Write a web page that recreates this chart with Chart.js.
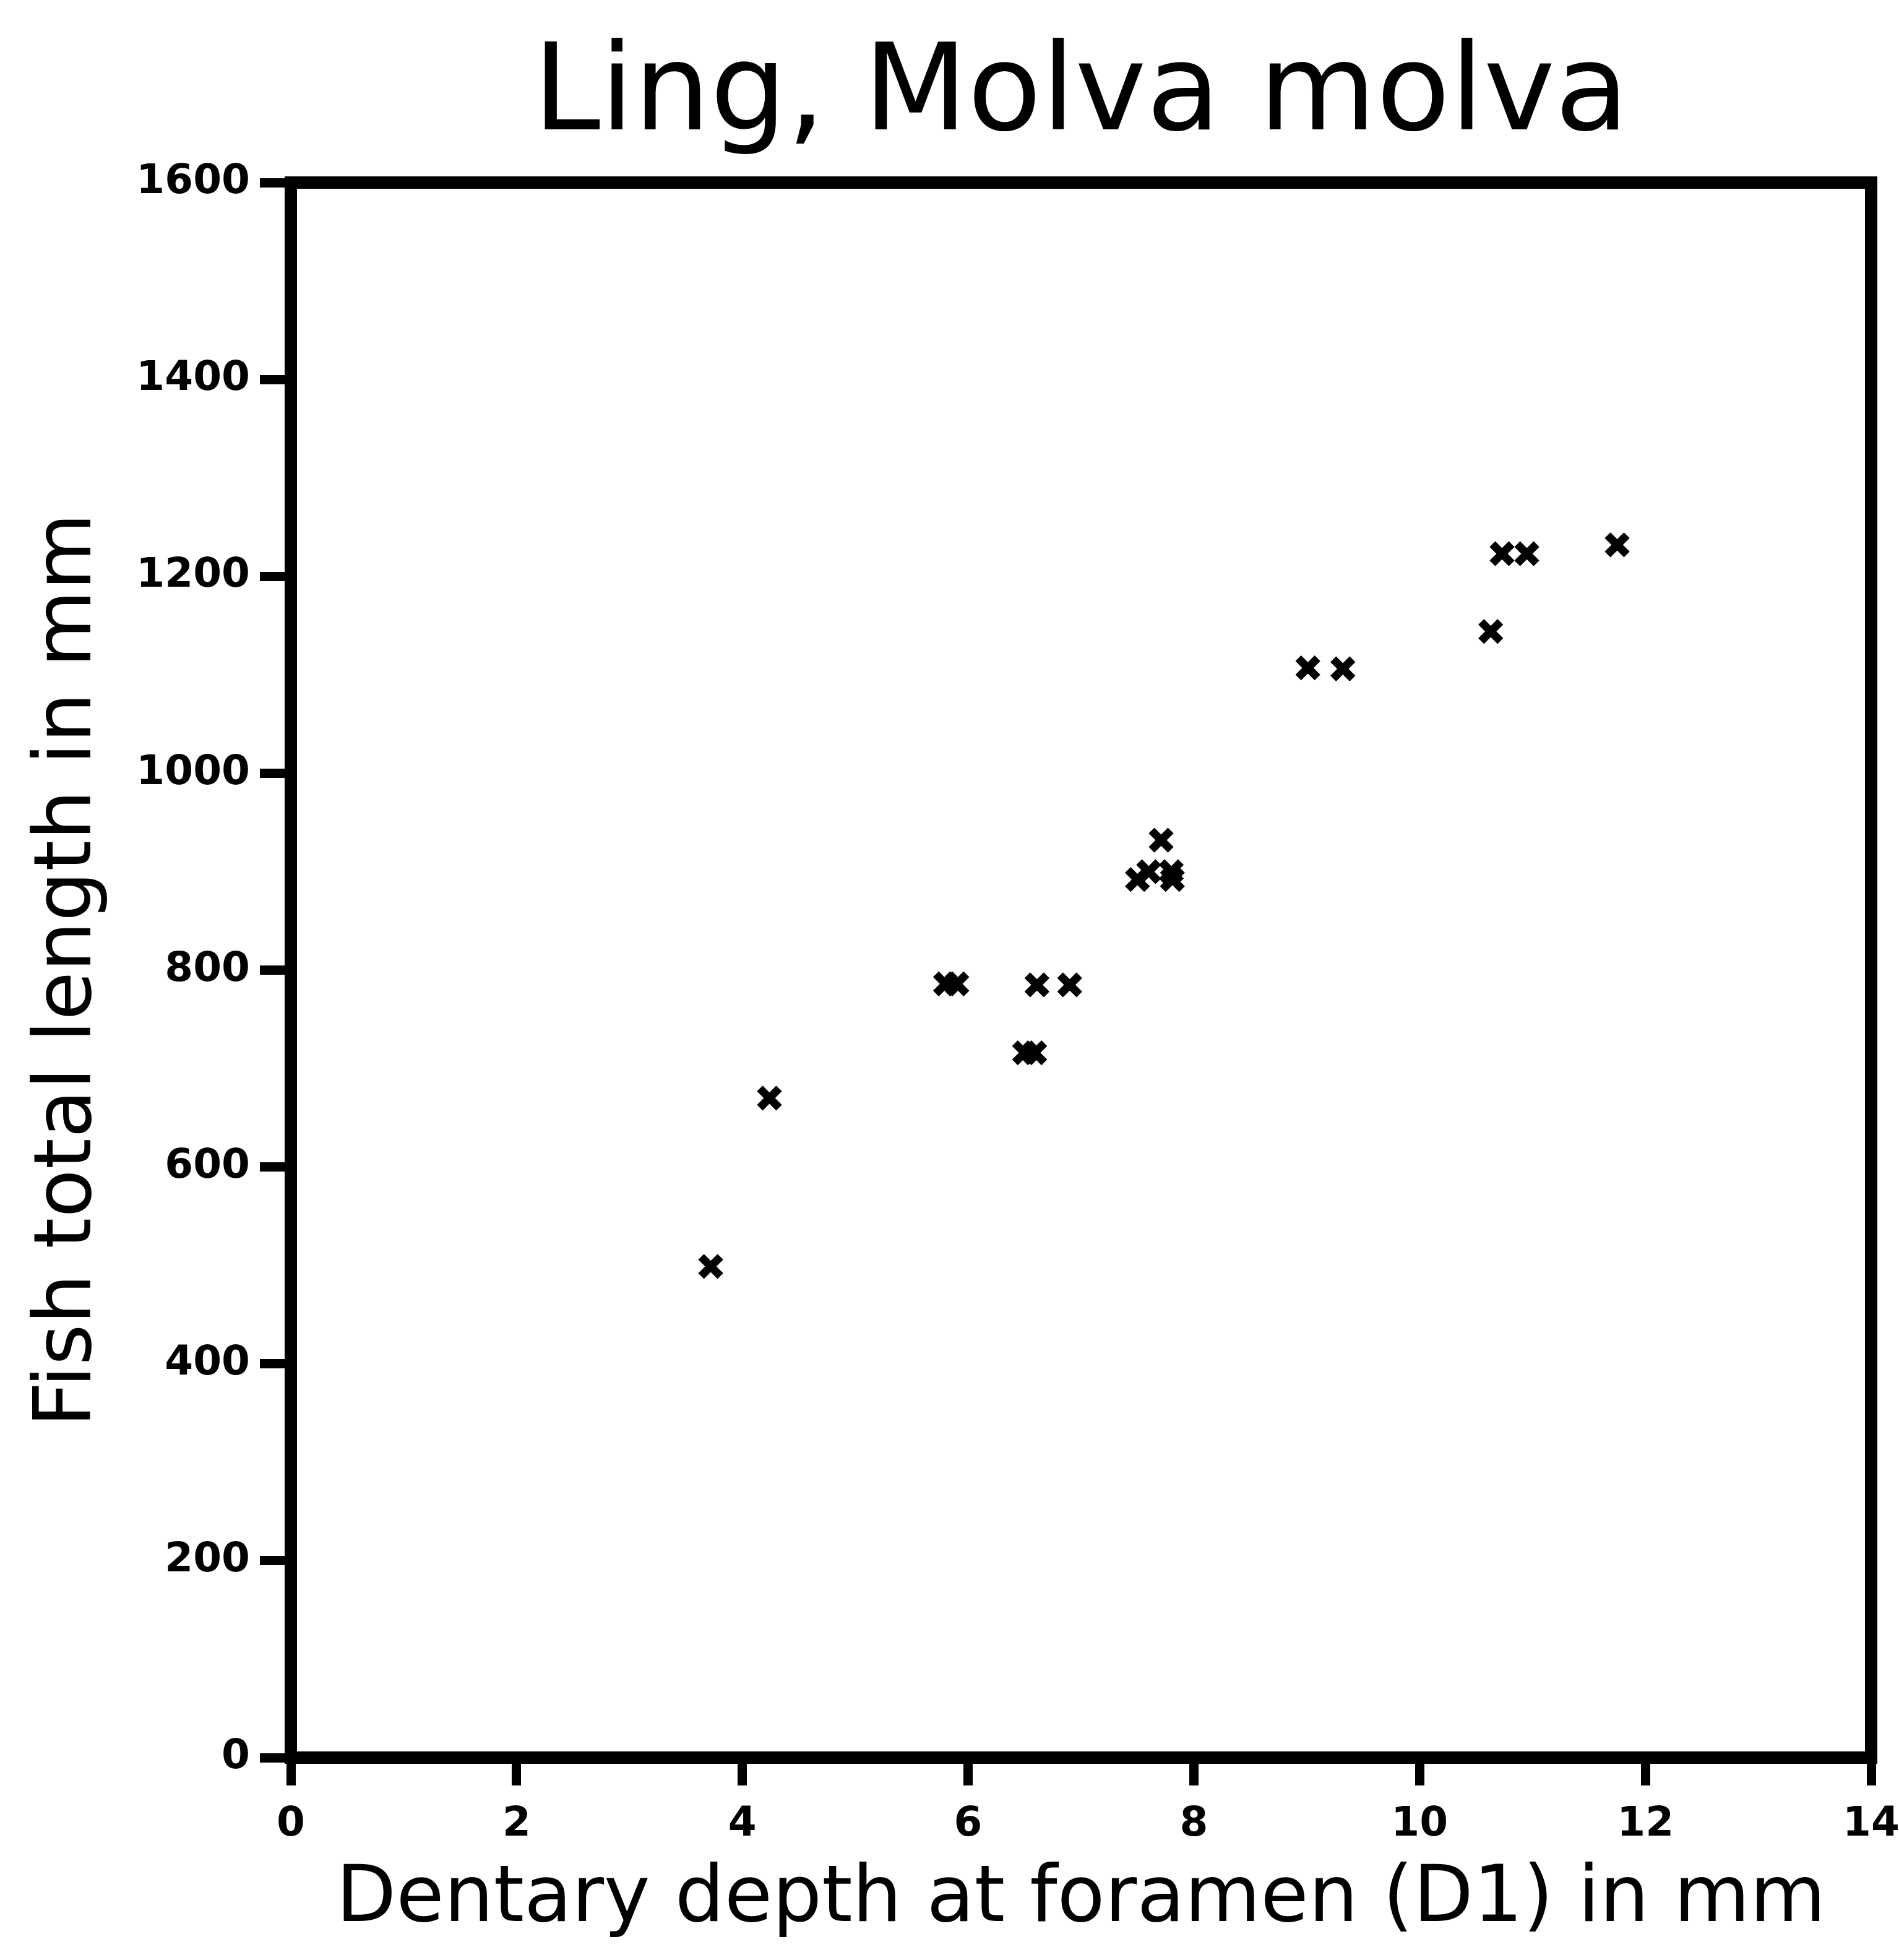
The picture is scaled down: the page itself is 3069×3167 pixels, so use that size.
<!DOCTYPE html>
<html>
<head>
<meta charset="utf-8">
<script src="https://cdn.jsdelivr.net/npm/chart.js@4.4.1/dist/chart.umd.min.js"></script>
<style>
  html, body { margin: 0; padding: 0; background: #ffffff; }
  #wrap { width: 3069px; height: 3167px; }
</style>
</head>
<body>
<div id="wrap"><canvas id="c" width="3069" height="3167"></canvas></div>
<script>
const chartTitle = "Ling, Molva molva";
const xAxisTitle = "Dentary depth at foramen (D1) in mm";
const yAxisTitle = "Fish total length in mm";

// Dentary depth (mm)
const dentaryDepth = [3.72, 4.24, 5.80, 5.90, 6.61, 6.90, 6.50, 6.59, 7.50, 7.60, 7.80, 7.81, 7.71, 9.01, 9.32, 10.63, 10.73, 10.95, 11.75];
// Fish total length (mm)
const fishLength   = [499,  670,  786,  786,  785,  785,  716,  716,  892,  900,  900,  892,  932,  1107, 1106, 1144,  1223,  1223,  1232];

const xTicks = [0, 2, 4, 6, 8, 10, 12, 14];
const yTicks = [0, 200, 400, 600, 800, 1000, 1200, 1400, 1600];

const points = dentaryDepth.map((x, i) => ({ x: x, y: fishLength[i] }));

const frame = {
  id: 'frame',
  afterDatasetsDraw(chart) {
    const a = chart.chartArea;
    const ctx = chart.ctx;
    ctx.save();
    ctx.strokeStyle = '#000';
    ctx.lineWidth = 20;
    ctx.lineJoin = 'miter';
    ctx.strokeRect(a.left, a.top, a.right - a.left, a.bottom - a.top);
    ctx.restore();
  }
};

new Chart(document.getElementById('c'), {
  type: 'scatter',
  data: {
    datasets: [{
      data: points,
      pointStyle: 'crossRot',
      pointRadius: 22,
      pointHoverRadius: 22,
      pointBorderWidth: 13,
      pointBorderColor: '#000',
      pointBackgroundColor: '#000'
    }]
  },
  plugins: [frame],
  options: {
    responsive: false,
    animation: false,
    events: [],
    layout: { padding: { top: 0, right: 45, bottom: 0, left: 0 } },
    plugins: {
      legend: { display: false },
      tooltip: { enabled: false },
      title: {
        display: true,
        text: chartTitle,
        fullSize: false,
        color: '#000',
        font: { family: 'DejaVu Sans', size: 195, weight: 'normal', lineHeight: 1.2 },
        padding: { top: 41, bottom: 20 }
      }
    },
    scales: {
      x: {
        type: 'linear',
        min: 0, max: 14,
        afterFit(s) { s.height = 327; s.paddingLeft = 0; s.paddingRight = 0; },
        afterBuildTicks(s) { s.ticks = xTicks.map(v => ({ value: v })); },
        border: { display: false },
        grid: { display: true, drawOnChartArea: false, drawTicks: true, tickLength: 45, tickWidth: 15, tickColor: '#000' },
        ticks: { color: '#000', padding: 24, maxRotation: 0, callback: v => String(v), font: { family: 'DejaVu Sans', size: 66, weight: 'bold' } },
        title: { display: true, text: xAxisTitle, color: '#000', padding: { top: 0, bottom: 20 }, font: { family: 'DejaVu Sans', size: 126, weight: 'normal' } }
      },
      y: {
        type: 'linear',
        min: 0, max: 1600,
        afterFit(s) { s.width = 470; s.paddingTop = 0; s.paddingBottom = 0; },
        afterBuildTicks(s) { s.ticks = yTicks.map(v => ({ value: v })); },
        border: { display: false },
        grid: { display: true, drawOnChartArea: false, drawTicks: true, tickLength: 50, tickWidth: 15, tickColor: '#000' },
        ticks: { color: '#000', padding: 16, callback: v => String(v), font: { family: 'DejaVu Sans', size: 66, weight: 'bold' } },
        title: { display: true, text: yAxisTitle, color: '#000', padding: { top: 36, bottom: 0 }, font: { family: 'DejaVu Sans', size: 128, weight: 'normal' } }
      }
    }
  }
});
</script>
</body>
</html>
